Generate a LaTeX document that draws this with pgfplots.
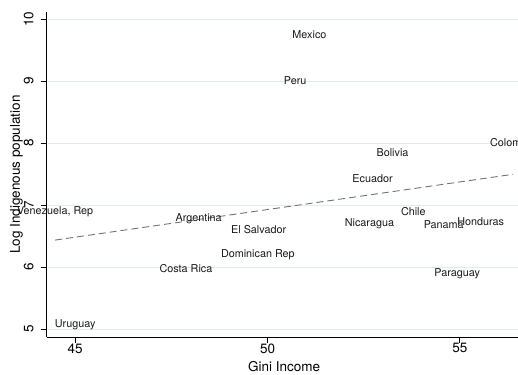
\documentclass[border=0pt]{standalone}
\usepackage{pgfplots}
\usepackage{pgfplotstable}
\pgfplotsset{compat=1.18}
\usepackage{fontspec}
\setmainfont{TeX Gyre Heros}

\definecolor{gridc}{RGB}{226,235,237}
\definecolor{fitc}{RGB}{115,115,115}
\definecolor{labc}{RGB}{25,25,25}

% Gini income vs. log indigenous population, by country
\pgfplotstableread[col sep=semicolon]{
x;y;name
51.09;9.75;Mexico
50.72;9.00;Peru
53.25;7.85;Bolivia
56.38;8.01;Colombia
52.73;7.43;Ecuador
44.48;6.90;Venezuela, Rep
48.21;6.785;Argentina
49.77;6.61;El Salvador
49.75;6.20;Dominican Rep
47.88;5.98;Costa Rica
45.00;5.07;Uruguay
52.65;6.70;Nicaragua
53.79;6.90;Chile
54.58;6.68;Panama
55.54;6.74;Honduras
54.93;5.89;Paraguay
}\countries

\begin{document}
\begin{tikzpicture}
\begin{axis}[
  at={(46.7pt,36.7pt)}, anchor=south west,
  scale only axis,
  width=474.7pt, height=325.6pt,
  xmin=44.26, xmax=56.6,
  ymin=4.866, ymax=10.12,
  axis x line*=bottom, axis y line*=left,
  axis line style={black, line width=0.8pt, -},
  xtick={45,50,55}, ytick={5,6,7,8,9,10},
  tick align=outside, major tick length=6pt,
  tick style={black, line width=0.8pt},
  ymajorgrids, grid style={gridc, line width=0.6pt},
  /pgf/number format/assume math mode=true,
  tick label style={font=\fontsize{13.5}{15}\selectfont, inner sep=0pt},
  xticklabel style={anchor=north},
  yticklabel style={rotate=90, anchor=south},
  yticklabel shift=7pt,
  xlabel={Gini Income},
  ylabel={Log Indigenous population},
  xlabel style={at={(axis description cs:0.5,0)}, anchor=north, inner sep=0pt, yshift=-24.4pt, font=\fontsize{13.5}{15}\selectfont},
  ylabel style={at={(axis description cs:-0.0563,0.5)}, rotate=0, anchor=base, inner sep=0pt, font=\fontsize{13.5}{15}\selectfont},
  clip=false,
]
\addplot[fitc, line width=0.9pt, dash pattern=on 7pt off 4pt] coordinates {(44.48,6.435) (56.38,7.496)};
\addplot[only marks, mark=none, nodes near coords, point meta=explicit symbolic,
  every node near coord/.append style={anchor=center, inner sep=0pt, text=labc, font=\fontsize{10.8}{12}\selectfont}]
  table[x=x, y=y, meta=name] {\countries};
\end{axis}
\pgfresetboundingbox
\useasboundingbox (0,0) rectangle (518pt,374pt);
\end{tikzpicture}
\end{document}
